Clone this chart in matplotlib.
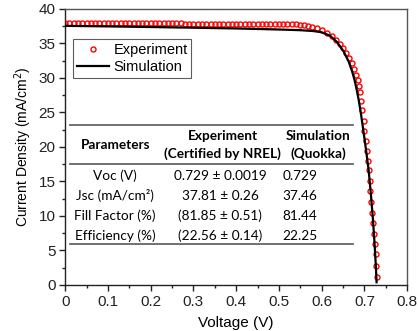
import matplotlib
matplotlib.use("Agg")
import matplotlib.pyplot as plt
from matplotlib.ticker import MultipleLocator


# measured J-V points (V in volts, J in mA/cm2)
exp_v = [0.00, 0.01, 0.02, 0.03, 0.04, 0.05, 0.06, 0.07, 0.08, 0.09,
         0.10, 0.11, 0.12, 0.13, 0.14, 0.15, 0.16, 0.17, 0.18, 0.19,
         0.20, 0.21, 0.22, 0.23, 0.24, 0.25, 0.26, 0.27, 0.28, 0.29,
         0.30, 0.31, 0.32, 0.33, 0.34, 0.35, 0.36, 0.37, 0.38, 0.39,
         0.40, 0.41, 0.42, 0.43, 0.44, 0.45, 0.46, 0.47, 0.48, 0.49,
         0.50, 0.51, 0.52, 0.53, 0.54, 0.549, 0.558, 0.567, 0.577, 0.588,
         0.600, 0.612, 0.624, 0.634, 0.642, 0.650, 0.657, 0.664, 0.671, 0.676,
         0.681, 0.684, 0.688, 0.690, 0.692, 0.695, 0.698, 0.700, 0.703, 0.705,
         0.708, 0.710, 0.712, 0.714, 0.716, 0.718, 0.720, 0.722, 0.724, 0.726,
         0.728, 0.729]
exp_j = [37.98, 37.97, 37.97, 37.97, 37.96, 37.96, 37.96, 37.95, 37.95, 37.95,
         37.94, 37.94, 37.94, 37.93, 37.93, 37.93, 37.92, 37.92, 37.92, 37.91,
         37.91, 37.91, 37.90, 37.90, 37.90, 37.89, 37.89, 37.89, 37.88, 37.88,
         37.88, 37.87, 37.87, 37.87, 37.86, 37.86, 37.86, 37.85, 37.85, 37.85,
         37.84, 37.84, 37.84, 37.83, 37.83, 37.83, 37.82, 37.82, 37.81, 37.81,
         37.80, 37.80, 37.79, 37.78, 37.76, 37.72, 37.66, 37.56, 37.42, 37.22,
         36.95, 36.55, 36.02, 35.51, 34.90, 34.30, 33.67, 32.94, 32.13, 31.30,
         30.43, 29.71, 28.88, 27.93, 26.67, 25.30, 23.80, 22.30, 20.80, 19.40,
         17.97, 16.60, 15.10, 13.55, 12.05, 10.50, 8.95, 7.45, 5.95, 4.45,
         2.70, 1.20]

# Quokka simulation curve
sim_v = [0.00, 0.10, 0.20, 0.30, 0.40, 0.50, 0.55, 0.58, 0.60, 0.62,
         0.636, 0.651, 0.663, 0.671, 0.677, 0.682, 0.687, 0.692, 0.698, 0.704,
         0.710, 0.715, 0.720, 0.724, 0.727, 0.7285]
sim_j = [37.55, 37.47, 37.38, 37.28, 37.17, 37.02, 36.92, 36.80, 36.62, 36.10,
         35.20, 33.90, 32.40, 31.00, 29.70, 28.30, 26.70, 24.80, 22.20, 19.50,
         16.60, 13.30, 9.50, 5.80, 2.50, 0.40]

# table contents
row_names = ["Voc (V)", "Jsc (mA/cm\u00b2)", "Fill Factor (%)", "Efficiency (%)"]
exp_vals = ["0.729 \u00b1 0.0019", "37.81 \u00b1 0.26", "(81.85 \u00b1 0.51)", "(22.56 \u00b1 0.14)"]
sim_vals = ["0.729", "37.46", "81.44", "22.25"]


def main():
    plt.rcParams["font.family"] = ["Liberation Sans", "DejaVu Sans"]
    fig = plt.figure(figsize=(4.18, 3.31), dpi=100)
    ax = fig.add_axes([0.156, 0.139, 0.818, 0.834])

    ax.plot(exp_v, exp_j, linestyle="none", marker="o", markersize=3.6,
            markerfacecolor="none", markeredgecolor="#ff0000", markeredgewidth=1.0,
            label="Experiment", zorder=3)
    ax.plot(sim_v, sim_j, color="black", linewidth=1.6, label="Simulation", zorder=4)

    ax.set_xlim(0, 0.8)
    ax.set_ylim(0, 40)
    ax.xaxis.set_minor_locator(MultipleLocator(0.05))
    ax.yaxis.set_major_locator(MultipleLocator(5))
    ax.yaxis.set_minor_locator(MultipleLocator(2.5))
    ax.set_xticks([0, 0.1, 0.2, 0.3, 0.4, 0.5, 0.6, 0.7, 0.8])
    ax.set_xticklabels(["0", "0.1", "0.2", "0.3", "0.4", "0.5", "0.6", "0.7", "0.8"])
    ax.tick_params(which="major", direction="out", length=4, width=1, labelsize=11,
                   colors="#222222", pad=3)
    ax.tick_params(which="minor", direction="out", length=2.5, width=1, colors="#222222")
    for side in ["left", "bottom"]:
        ax.spines[side].set_color("#222222")
        ax.spines[side].set_linewidth(1)
    for side in ["top", "right"]:
        ax.spines[side].set_color("#555555")
        ax.spines[side].set_linewidth(1)

    ax.set_xlabel("Voltage (V)", fontsize=11, labelpad=5)
    ax.set_ylabel("Current Density (mA/cm$^2$)", fontsize=10, labelpad=3)

    leg = ax.legend(loc="upper left", bbox_to_anchor=(0.024, 0.89), fontsize=10.5,
                    frameon=True, fancybox=False, edgecolor="#333333",
                    handlelength=2.2, handletextpad=0.3, borderpad=0.25,
                    labelspacing=0.2, borderaxespad=0)
    leg.get_frame().set_linewidth(0.8)

    # table drawn in data coordinates
    tfont = ["Lato", "DejaVu Sans"]
    tsize = 9.8
    line_kw = dict(color="#666666", linewidth=1.3, zorder=2)
    ax.plot([0.012, 0.674], [23.2, 23.2], **line_kw)
    ax.plot([0.012, 0.674], [17.6, 17.6], **line_kw)
    ax.plot([0.012, 0.674], [5.9, 5.9], **line_kw)

    ax.text(0.117, 20.3, "Parameters", family=tfont, fontsize=tsize, fontweight="bold",
            ha="center", va="center")
    ax.text(0.368, 21.6, "Experiment", family=tfont, fontsize=tsize, fontweight="bold",
            ha="center", va="center")
    ax.text(0.368, 19.0, "(Certified by NREL)", family=tfont, fontsize=tsize,
            fontweight="bold", ha="center", va="center")
    ax.text(0.592, 21.6, "Simulation", family=tfont, fontsize=tsize, fontweight="bold",
            ha="center", va="center")
    ax.text(0.592, 19.0, "(Quokka)", family=tfont, fontsize=tsize, fontweight="bold",
            ha="center", va="center")

    row_y = [15.8, 12.9, 10.0, 7.1]
    for name, ev, sv, y in zip(row_names, exp_vals, sim_vals, row_y):
        ax.text(0.117, y, name, family=tfont, fontsize=tsize, ha="center", va="center")
        ax.text(0.363, y, ev, family=tfont, fontsize=tsize, ha="center", va="center")
        ax.text(0.509, y, sv, family=tfont, fontsize=tsize, ha="left", va="center")

    fig.savefig("out.png", dpi=100)


if __name__ == "__main__":
    main()
